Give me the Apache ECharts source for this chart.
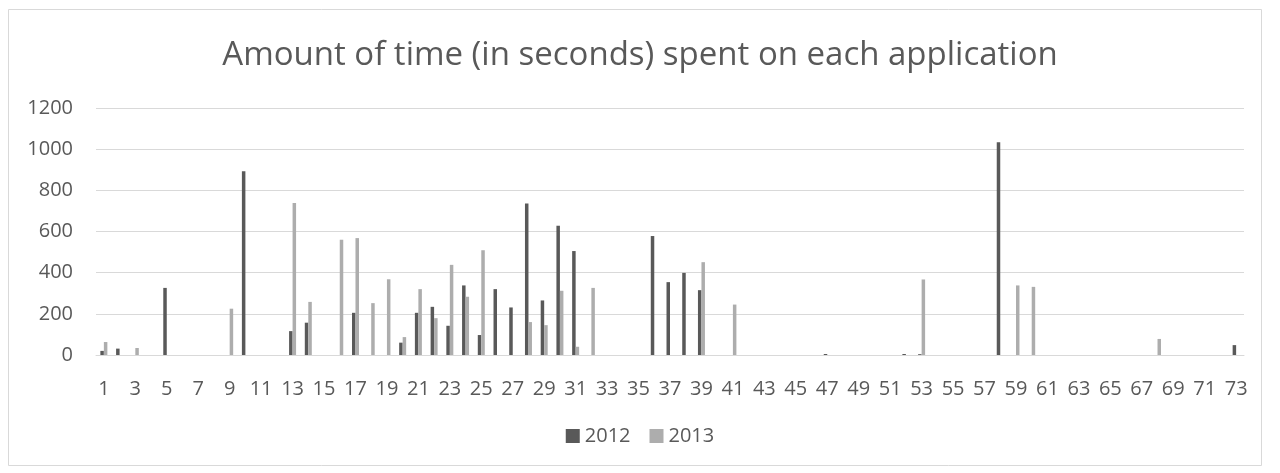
<!DOCTYPE html>
<html>
<head>
<meta charset="utf-8">
<script src="https://cdn.jsdelivr.net/npm/echarts@6/dist/echarts.min.js"></script>
<style>
html,body{margin:0;padding:0;background:#fff;}
#c{width:1280px;height:473px;}
</style>
</head>
<body>
<div id="c"></div>
<script>
const titleText = "Amount of time (in seconds) spent on each application";
const categories = Array.from({length: 73}, (_, i) => String(i + 1));
const seriesNames = ["2012", "2013"];
const values2012 = [
  20, 31, 0, 0, 326, 0, 0, 0, 0, 893,
  0, 0, 116, 157, 0, 0, 205, 0, 0, 60,
  205, 234, 142, 338, 97, 320, 231, 736, 265, 628,
  505, 0, 0, 0, 0, 578, 354, 399, 315, 0,
  0, 0, 0, 0, 0, 0, 5, 0, 0, 0,
  0, 5, 4, 0, 0, 0, 0, 1034, 0, 0,
  0, 0, 0, 0, 0, 0, 0, 0, 0, 0,
  0, 0, 48
];
const values2013 = [
  63, 0, 34, 0, 0, 0, 0, 0, 225, 0,
  0, 0, 738, 258, 0, 560, 568, 252, 368, 87,
  320, 179, 438, 283, 509, 0, 0, 160, 145, 312,
  40, 326, 0, 0, 0, 0, 0, 0, 451, 0,
  245, 0, 0, 0, 0, 0, 0, 0, 0, 0,
  0, 0, 367, 0, 0, 0, 0, 0, 338, 331,
  0, 0, 0, 0, 0, 0, 0, 78, 0, 0,
  0, 0, 0
];
const yMin = 0, yMax = 1200, yStep = 200;

const chart = echarts.init(document.getElementById('c'));
const font = '"Open Sans", "Noto Sans", sans-serif';
chart.setOption({
  animation: false,
  backgroundColor: '#ffffff',
  graphic: [{
    type: 'rect',
    shape: {x: 8.5, y: 9.5, width: 1253, height: 456},
    style: {fill: 'none', stroke: '#d9d9d9', lineWidth: 1},
    silent: true
  }],
  title: {
    text: titleText,
    left: 'center',
    top: 34,
    textStyle: {fontFamily: font, fontSize: 33, fontWeight: 'normal', color: '#595959'}
  },
  legend: {
    data: seriesNames,
    bottom: 22,
    left: 'center',
    itemWidth: 14,
    itemHeight: 14,
    itemGap: 19,
    icon: 'rect',
    textStyle: {fontFamily: font, fontSize: 20, color: '#595959'}
  },
  grid: {left: 96, right: 36, top: 108, bottom: 118, containLabel: false},
  xAxis: {
    type: 'category',
    data: categories,
    axisLine: {lineStyle: {color: '#d9d9d9', width: 1}},
    axisTick: {show: false},
    axisLabel: {interval: 1, fontFamily: font, fontSize: 20, color: '#595959', margin: 24}
  },
  yAxis: {
    type: 'value',
    min: yMin, max: yMax, interval: yStep,
    axisLine: {show: false},
    axisTick: {show: false},
    splitLine: {lineStyle: {color: '#d9d9d9', width: 1}},
    axisLabel: {fontFamily: font, fontSize: 20, color: '#595959', margin: 23,
      formatter: v => String(v)}
  },
  series: [
    {name: seriesNames[0], type: 'bar', data: values2012, barWidth: 3.5, barGap: '0%',
     itemStyle: {color: '#595959'}},
    {name: seriesNames[1], type: 'bar', data: values2013, barWidth: 3.5, barGap: '0%',
     itemStyle: {color: '#adadad'}}
  ]
});
</script>
</body>
</html>
